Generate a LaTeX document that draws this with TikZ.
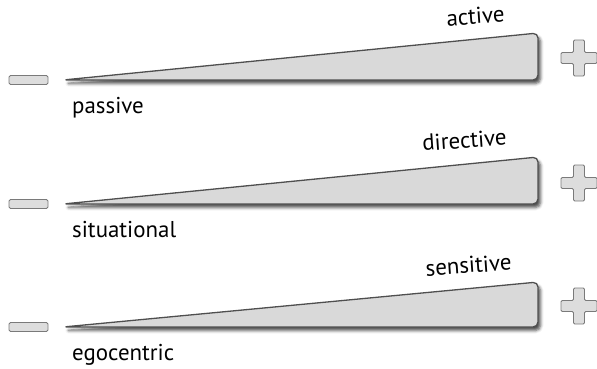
\documentclass[tikz,border=0pt]{standalone}
\usepackage{fontspec}
\setmainfont{PT Sans}
\usetikzlibrary{shadows.blur}
\definecolor{wedgefill}{HTML}{D9D9D9}
\definecolor{wedgeline}{HTML}{4F4F4F}
\definecolor{signfill}{HTML}{DDDDDD}
\definecolor{signline}{HTML}{7A7A7A}
\tikzset{
  wedgeshape/.style={fill=wedgefill, draw=wedgeline, line width=1.3bp,
    line join=round, rounded corners=5bp,
    blur shadow={shadow xshift=2.5bp, shadow yshift=-3.5bp,
      shadow blur radius=3bp, shadow opacity=70}},
  minusbar/.style={fill=signfill, draw=signline, line width=0.9bp,
    rounded corners=1.5bp},
  plussign/.style={fill=signfill, draw=signline, line width=0.9bp,
    rounded corners=1.2bp},
  lowlabel/.style={anchor=base west, font=\fontsize{23}{26}\selectfont,
    inner sep=0pt},
  highlabel/.style={anchor=base, rotate=4, font=\fontsize{23}{26}\selectfont,
    inner sep=0pt}
}
\begin{document}
\begin{tikzpicture}[x=1bp, y=-1bp]
\useasboundingbox (0,0) rectangle (597,368);
% one row per scale: bottom y, top y, plus centre y, low label, high label, high label x, name
\foreach \yb/\yt/\yp/\low/\high/\hx/\nm in {
    80/33/58/passive/active/476/one,
    204/157/183/situational/directive/465/two,
    327/282/306/egocentric/sensitive/469/three}{
  % the wedge growing from the minus end to the plus end
  \draw[wedgeshape] (63,\yb) -- (538,\yb) -- (538,\yt) -- cycle;
  % minus sign
  \draw[minusbar] (9,\yb-4.5) rectangle (48,\yb+4.5);
  % plus sign
  \draw[plussign] (573.5,\yp-18) -- ++(11,0) -- ++(0,12.5) -- ++(12.5,0)
    -- ++(0,11) -- ++(-12.5,0) -- ++(0,12.5) -- ++(-11,0) -- ++(0,-12.5)
    -- ++(-12.5,0) -- ++(0,-11) -- ++(12.5,0) -- cycle;
  % labels
  \node[lowlabel] (low-\nm) at (72,\yb+33) {\low};
  \node[highlabel] (high-\nm) at (\hx,\yt-9) {\high};
}
\end{tikzpicture}
\end{document}
